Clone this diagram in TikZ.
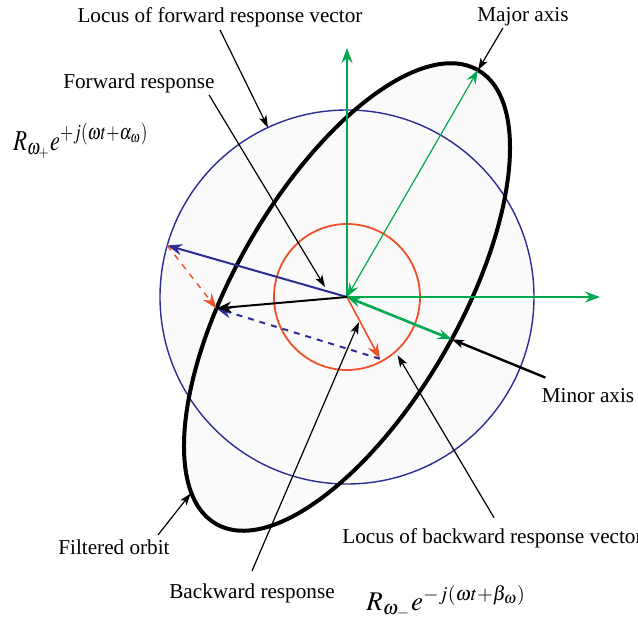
\documentclass[tikz,border=0pt]{standalone}
\usepackage{graphicx}
\usepackage{mathptmx}
\usepackage{fontspec}
\setmainfont{Liberation Serif}
\usetikzlibrary{arrows.meta}
\definecolor{AxisG}{RGB}{0,168,80}
\definecolor{FwdB} {RGB}{45,45,150}
\definecolor{BwdR} {RGB}{240,80,40}
\newcommand{\lblfont}{\fontsize{10.6}{12.7}\selectfont}
\newcommand{\eqfont}{\fontsize{14.4}{17}\selectfont}

\begin{document}
\begin{tikzpicture}[x=0.5pt,y=0.5pt,
    lbl/.style={font=\lblfont,inner sep=1pt},
    pointer/.style={-{Stealth[length=6pt,width=4pt,inset=1.5pt]},line width=0.6pt},
    vec/.style={-{Stealth[length=7.5pt,width=5.5pt,inset=2.5pt]}},
    dvec/.style={{Stealth[length=7pt,width=5pt,inset=2.5pt]}-{Stealth[length=7pt,width=5pt,inset=2.5pt]}}]
  \useasboundingbox (-347,-325) rectangle (291,297);
  \coordinate (O) at (0,0);
  \coordinate (Fw) at (164:187);
  \coordinate (Bw) at (-62:70);
  \coordinate (Rs) at (185:131);
  \coordinate (Mj) at (60:262);
  \coordinate (Mn) at (-22:113);
  \fill[black!2] (O) circle (187);
  \fill[black!2,rotate=60] (O) ellipse (262 and 112);
  \draw[FwdB,line width=0.7pt] (O) circle (187);
  \draw[BwdR,line width=0.9pt] (O) circle (73);
  \draw[line width=2pt,rotate=60] (O) ellipse (262 and 112);
  \draw[AxisG,vec,line width=1pt] (O) -- (0,249);
  \draw[AxisG,vec,line width=1pt] (O) -- (253,0);
  \draw[AxisG,dvec,line width=0.6pt] (O) -- (Mj);
  \draw[AxisG,dvec,line width=1.3pt] (O) -- (Mn);
  \draw[FwdB,vec,line width=1pt] (O) -- (Fw);
  \draw[BwdR,vec,line width=0.8pt] (O) -- (Bw);
  \draw[BwdR,vec,dashed,line width=0.7pt] (Fw) -- (Rs);
  \draw[FwdB,vec,dashed,line width=1pt] (Bw) -- (Rs);
  \draw[vec,line width=1pt] (O) -- (Rs);

  \node[lbl,anchor=base] (lfwd) at (-127,274) {Locus of forward response vector};
  \node[lbl,anchor=base] (fwd) at (-208,209) {Forward response};
  \node[lbl,anchor=base] (maj) at (176,276) {Major axis};
  \node[lbl,anchor=base] (mnr) at (241,-105) {Minor axis};
  \node[lbl,anchor=base west] (lbwd) at (-7,-246) {Locus of backward response vector};
  \node[lbl,anchor=base] (bwd) at (-95,-301) {Backward response};
  \node[lbl,anchor=base] (filt) at (-233,-257) {Filtered orbit};
  \node[font=\eqfont,anchor=base west,inner sep=0pt] (eqf) at (-334,147)
    {\scalebox{0.78}[1]{$R_{\omega_+}e^{+j(\omega t+\alpha_\omega)}$}};
  \node[font=\fontsize{13.5}{16}\selectfont,anchor=base west,inner sep=0pt] (eqb) at (19,-313)
    {$R_{\omega_-}e^{-j(\omega t+\beta_\omega)}$};

  \coordinate (Cf) at (115:187);
  \coordinate (Cb) at (-49:77);
  \coordinate (Fp) at (-22,10);
  \coordinate (Bp) at (12,-25);
  \coordinate (Fo) at (231.5:251);
  \draw[pointer] (lfwd.south) -- (Cf);
  \draw[pointer] ([xshift=-4pt]fwd.south east) -- (Fp);
  \draw[pointer] ([xshift=-10pt]maj.south) -- (Mj);
  \draw[pointer,line width=1.2pt] ([shift={(3pt,4pt)}]mnr.north west) -- (Mn);
  \draw[pointer] ([shift={(77pt,4pt)}]lbwd.north west) -- (Cb);
  \draw[pointer] ([yshift=5pt]bwd.north) -- (Bp);
  \draw[pointer] ([shift={(-7pt,1pt)}]filt.north east) -- (Fo);
\end{tikzpicture}
\end{document}
